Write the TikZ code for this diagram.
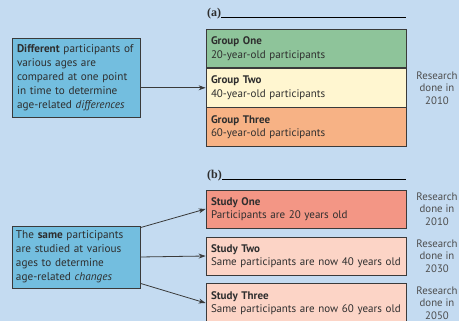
\documentclass[tikz,border=0pt]{standalone}
\usepackage{fontspec}
\setmainfont{PT Sans}
\newfontfamily\serifbf{Liberation Serif}
\usetikzlibrary{arrows.meta}
\hbadness=10000 \hfuzz=100pt
\definecolor{bg}{HTML}{C4DBF1}
\definecolor{leftc}{HTML}{73BEDF}
\definecolor{edge}{HTML}{3A3A3A}
\definecolor{txt}{HTML}{2E2E2E}
\definecolor{green1}{HTML}{8EC49A}
\definecolor{cream}{HTML}{FFF6D0}
\definecolor{orange1}{HTML}{F7B285}
\definecolor{salmon}{HTML}{F39685}
\definecolor{pink1}{HTML}{FCD4C6}
\begin{document}
\begin{tikzpicture}[x=1pt,y=1pt,
  every node/.style={text=txt},
  leftbox/.style={draw=edge,line width=0.8pt,fill=leftc,minimum width=128pt,align=left,
     font=\fontsize{11.2}{14}\selectfont,anchor=center},
  rowbox/.style={draw=edge,line width=0.8pt,minimum width=200pt,text width=190pt,align=left,
     font=\fontsize{11}{13.5}\selectfont,inner xsep=5pt,anchor=center},
  note/.style={align=center,font=\fontsize{10.8}{12.5}\selectfont,text=txt!85},
  arr/.style={draw=edge,line width=0.8pt,-{Stealth[length=7pt,width=5pt]}},
  lab/.style={font=\serifbf\bfseries\fontsize{12}{12}\selectfont,anchor=base west,inner sep=0pt}]
\useasboundingbox (0,0) rectangle (459,321);
\fill[bg] (0,0) rectangle (459,321);
% (a)
\node[lab] (la) at (207,304) {(a)};
\coordinate (lae) at (406,304);
\draw[line width=0.5pt,black] (la.base east) -- (lae);
\node[rowbox,fill=green1,minimum height=38.5pt] (g1) at (306,272.5) {\textbf{Group One}\\20-year-old participants};
\node[rowbox,fill=cream,minimum height=38.5pt,anchor=north] (g2) at (g1.south) {\textbf{Group Two}\\40-year-old participants};
\node[rowbox,fill=orange1,minimum height=38.5pt,anchor=north] (g3) at (g2.south) {\textbf{Group Three}\\60-year-old participants};
\node[note] (ra) at (437,233) {Research\\done in\\2010};
\node[leftbox,minimum height=79pt,text width=118pt] (lefta) at (76,243.5) {\textbf{Different} participants of\\various ages are\\compared at one point\\in time to determine\\age-related \textit{differences}};
\draw[arr] (lefta.east |- g2.west) -- (g2.west);
% (b)
\node[lab] (lb) at (207,142) {(b)};
\coordinate (lbe) at (406,142);
\draw[line width=0.5pt,black] (lb.base east) -- (lbe);
\node[rowbox,fill=salmon,minimum height=38pt] (s1) at (306,112) {\textbf{Study One}\\Participants are 20 years old};
\node[rowbox,fill=pink1,minimum height=38pt] (s2) at (306,65) {\textbf{Study Two}\\\mbox{Same participants are now 40 years old}};
\node[rowbox,fill=pink1,minimum height=40pt] (s3) at (306,18) {\textbf{Study Three}\\\mbox{Same participants are now 60 years old}};
\node[note] (rb1) at (437,112) {Research\\done in\\2010};
\node[note] (rb2) at (437,65) {Research\\done in\\2030};
\node[note] (rb3) at (437,18) {Research\\done in\\2050};
\node[leftbox,minimum height=62pt,text width=120pt,inner xsep=4pt] (leftb) at (76,64) {The \textbf{same} participants\\are studied at various\\ages to determine\\age-related \textit{changes}};
\draw[arr] ([yshift=-2pt]leftb.north east) -- (s1.west);
\draw[arr] (leftb.east) -- (s2.west);
\draw[arr] ([yshift=5pt]leftb.south east) -- (s3.west);
\end{tikzpicture}
\end{document}
